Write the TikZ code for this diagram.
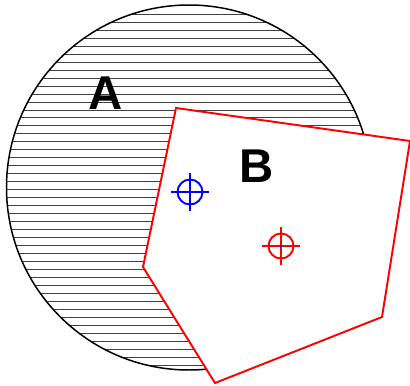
\documentclass[tikz,border=0pt]{standalone}
\usepackage{fontspec}
\setmainfont{Liberation Sans}
\usepackage{tikz}

\begin{document}
\begin{tikzpicture}[
    x=0.02cm,y=-0.02cm,
    hatch/.style={black!75,line width=0.5pt},
    rim/.style={draw=black,line width=0.85pt},
    poly/.style={draw=red,line width=1.1pt,fill=white,line join=miter},
    letter/.style={font=\fontsize{27}{27}\selectfont\bfseries,inner sep=0pt},
    target/.pic={
      \draw[line width=1.1pt] (0,0) circle (12.5);
      \draw[line width=1.1pt] (-19,0) -- (19,0) (0,-19) -- (0,19);
    }
  ]
    \useasboundingbox (0,0) rectangle (410,386);
    % hatched disc A
    \begin{scope}
      \clip (189,187.5) circle (182.5);
      \foreach \k in {0,...,45}
        \draw[hatch] (0,14.3+7.97*\k) -- (410,14.3+7.97*\k);
    \end{scope}
    \draw[rim] (189,187.5) circle (182.5);
    \node[letter] (labA) at (106,93) {A};
    % polygon B
    \coordinate (p1) at (176,108);
    \coordinate (p2) at (410,141);
    \coordinate (p3) at (382,317);
    \coordinate (p4) at (215,383);
    \coordinate (p5) at (143,267);
    \draw[poly] (p1) -- (p2) -- (p3) -- (p4) -- (p5) -- cycle;
    \node[letter] (labB) at (257,166) {B};
    % markers
    \pic[blue] (tblue) at (190,192) {target};
    \pic[red] (tred) at (281,246) {target};
    \fill[blue!70!red] (281,246) circle (1.5);
  \end{tikzpicture}
\end{document}
